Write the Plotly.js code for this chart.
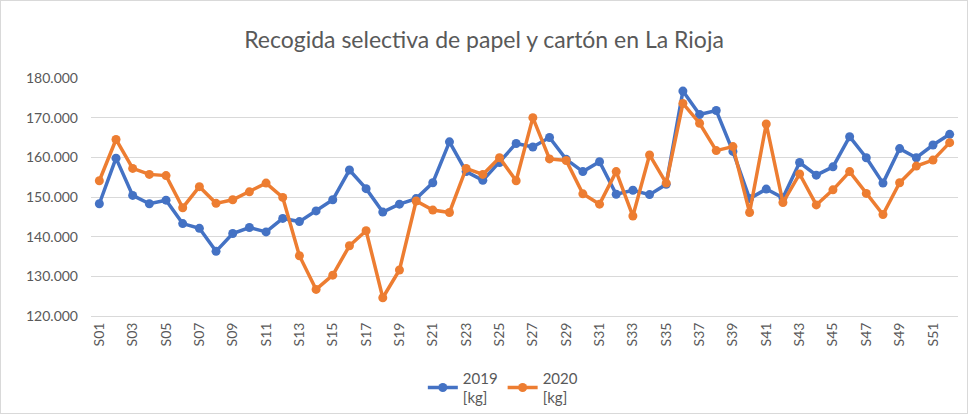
<!DOCTYPE html>
<html>
<head>
<meta charset="utf-8">
<script src="https://cdn.plot.ly/plotly-3.0.1.min.js"></script>
<style>
html,body{margin:0;padding:0;background:#fff;}
#wrap{width:968px;height:414px;box-sizing:border-box;border:1px solid #d9d9d9;overflow:hidden;}
#chart{width:966px;height:412px;}
</style>
</head>
<body>
<div id="wrap"><div id="chart"></div></div>
<script>
const weeks = ["S01","S02","S03","S04","S05","S06","S07","S08","S09","S10","S11","S12","S13","S14","S15","S16","S17","S18","S19","S20","S21","S22","S23","S24","S25","S26","S27","S28","S29","S30","S31","S32","S33","S34","S35","S36","S37","S38","S39","S40","S41","S42","S43","S44","S45","S46","S47","S48","S49","S50","S51","S52"];
const kg2019 = [148300,159800,150400,148300,149200,143300,142100,136300,140800,142300,141200,144600,143800,146500,149300,156800,152100,146200,148200,149600,153600,163900,156400,154200,158700,163500,162600,165000,159500,156400,158900,150700,151700,150600,153200,176700,170800,171800,161500,149600,152000,149800,158700,155500,157600,165200,159900,153500,162200,159900,163100,165800];
const kg2020 = [154100,164500,157200,155700,155400,147300,152600,148400,149300,151300,153500,149900,135200,126700,130300,137700,141500,124600,131600,149000,146700,146100,157200,155700,159900,154100,170000,159600,159200,150800,148200,156400,145200,160600,153500,173600,168600,161700,162700,146100,168400,148600,155800,148000,151800,156400,150900,145600,153600,157800,159300,163700];
const names = ["2019<br>[kg]","2020<br>[kg]"];
const yTicks = [120000,130000,140000,150000,160000,170000,180000];

const tickWeeks = weeks.filter((w,i)=>i%2===0);
const mk = (y,name,color)=>({
  x: weeks, y: y, name: name, type:'scatter', mode:'lines+markers',
  line:{color:color,width:3.5}, marker:{color:color,size:9}
});
const data = [mk(kg2019,names[0],'#4472C4'), mk(kg2020,names[1],'#ED7D31')];
const layout = {
  width:966, height:412,
  margin:{l:90,r:9,t:77,b:97},
  paper_bgcolor:'#fff', plot_bgcolor:'#fff',
  separators:',.',
  font:{family:'Lato, "Open Sans", sans-serif', color:'#595959', size:14},
  title:{text:'Recogida selectiva de papel y cartón en La Rioja', x:0.5, xanchor:'center', y:0.905, yanchor:'middle', font:{size:23,color:'#595959'}},
  xaxis:{type:'category', range:[-0.5,51.5], tickvals:tickWeeks, ticktext:tickWeeks, tickangle:-90, automargin:false,
    showgrid:false, showline:true, linecolor:'#d9d9d9', linewidth:1, ticks:'', zeroline:false, tickfont:{size:14}},
  yaxis:{range:[120000,180000], tickvals:yTicks, tickformat:',d', showgrid:true, gridcolor:'#d9d9d9', gridwidth:1, automargin:false,
    zeroline:false, showline:false, ticks:'', tickfont:{size:14}, ticklabelstandoff:12},
  legend:{orientation:'h', x:0.475, xanchor:'center', yref:'container', y:0.125, yanchor:'top', font:{size:15}, tracegroupgap:0},
  showlegend:true
};
Plotly.newPlot('chart', data, layout, {displayModeBar:false, staticPlot:true});
</script>
</body>
</html>
